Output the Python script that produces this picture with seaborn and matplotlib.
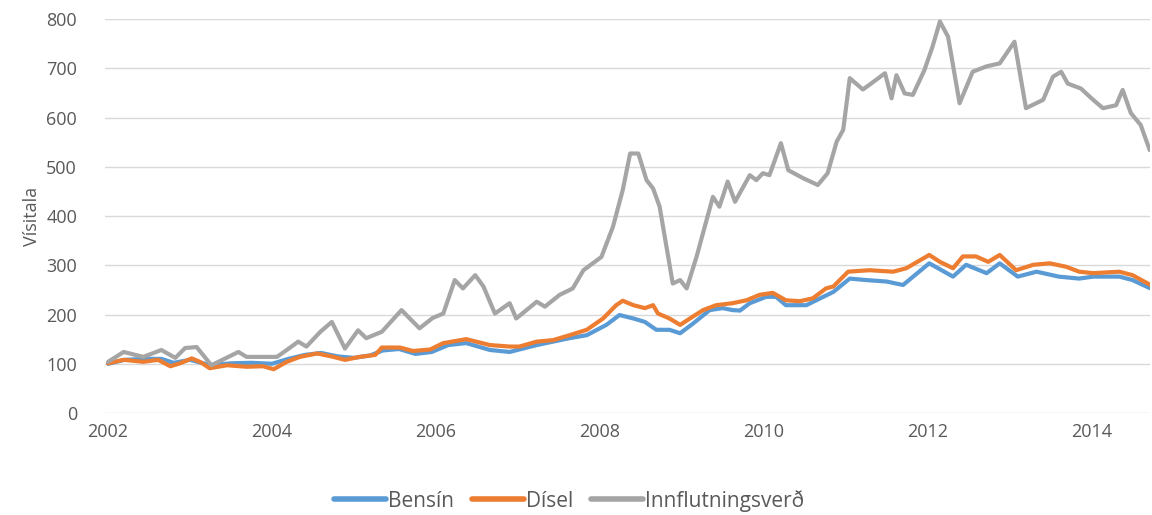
import pandas as pd
import numpy as np
import seaborn as sns
import matplotlib.pyplot as plt

# Bensín
bensin_t = [2002.0, 2002.2, 2002.45, 2002.65, 2002.8, 2003.0, 2003.25, 2003.5, 2003.75, 2004.0,
            2004.2, 2004.4, 2004.6, 2004.8, 2005.0, 2005.2, 2005.35, 2005.55, 2005.75, 2005.95,
            2006.15, 2006.37, 2006.66, 2006.9, 2007.23, 2007.63, 2007.84, 2008.08, 2008.24, 2008.41,
            2008.55, 2008.69, 2008.85, 2008.98, 2009.14, 2009.34, 2009.5, 2009.62, 2009.71, 2009.83,
            2010.03, 2010.15, 2010.27, 2010.52, 2010.85, 2011.05, 2011.25, 2011.5, 2011.7, 2012.02,
            2012.31, 2012.47, 2012.72, 2012.88, 2013.1, 2013.33, 2013.6, 2013.85, 2014.02, 2014.34,
            2014.5, 2014.72]
bensin_v = [100, 108, 110, 110, 102, 108, 97, 101, 102, 100,
            110, 118, 122, 115, 112, 117, 127, 130, 120, 124,
            138, 142, 128, 124, 138, 152, 158, 179, 199, 192,
            185, 169, 169, 162, 182, 209, 213, 209, 208, 223,
            236, 236, 219, 219, 246, 273, 270, 267, 260, 304,
            277, 301, 284, 304, 277, 287, 277, 273, 277, 277,
            270, 253]

# Dísel
disel_t = [2002.0, 2002.19, 2002.43, 2002.61, 2002.76, 2002.88, 2003.02, 2003.12, 2003.24, 2003.45,
           2003.69, 2003.89, 2004.02, 2004.18, 2004.34, 2004.55, 2004.75, 2004.89, 2005.07, 2005.26,
           2005.34, 2005.56, 2005.72, 2005.93, 2006.09, 2006.37, 2006.66, 2006.9, 2007.02, 2007.23,
           2007.43, 2007.63, 2007.84, 2008.04, 2008.2, 2008.28, 2008.41, 2008.55, 2008.65, 2008.71,
           2008.85, 2008.98, 2009.1, 2009.26, 2009.42, 2009.62, 2009.79, 2009.95, 2010.11, 2010.27,
           2010.44, 2010.6, 2010.76, 2010.85, 2011.03, 2011.29, 2011.58, 2011.74, 2012.02, 2012.15,
           2012.31, 2012.43, 2012.59, 2012.74, 2012.88, 2013.08, 2013.29, 2013.49, 2013.69, 2013.85,
           2014.02, 2014.34, 2014.5, 2014.72]
disel_v = [101, 108, 104, 108, 95, 101, 111, 104, 91, 97,
           94, 95, 89, 104, 114, 121, 114, 108, 114, 118,
           133, 133, 126, 129, 142, 150, 138, 135, 135, 145,
           148, 158, 169, 192, 219, 228, 219, 213, 219, 202,
           192, 179, 192, 209, 219, 223, 229, 240, 244, 229,
           227, 233, 253, 257, 287, 290, 287, 294, 321, 307,
           294, 318, 318, 307, 321, 290, 301, 304, 297, 287,
           284, 287, 280, 260]

# Innflutningsverð
innfl_t = [2002.0, 2002.19, 2002.43, 2002.65, 2002.82, 2002.94, 2003.08, 2003.26, 2003.59, 2003.69,
           2004.06, 2004.18, 2004.32, 2004.42, 2004.59, 2004.73, 2004.89, 2005.05, 2005.15, 2005.34,
           2005.58, 2005.8, 2005.96, 2006.09, 2006.23, 2006.33, 2006.48, 2006.58, 2006.72, 2006.9,
           2006.98, 2007.23, 2007.33, 2007.51, 2007.67, 2007.8, 2008.02, 2008.16, 2008.28, 2008.37,
           2008.47, 2008.57, 2008.65, 2008.73, 2008.89, 2008.98, 2009.06, 2009.18, 2009.38, 2009.46,
           2009.56, 2009.65, 2009.83, 2009.91, 2009.99, 2010.07, 2010.21, 2010.3, 2010.48, 2010.66,
           2010.78, 2010.89, 2010.97, 2011.05, 2011.21, 2011.31, 2011.48, 2011.56, 2011.62, 2011.72,
           2011.82, 2011.96, 2012.06, 2012.15, 2012.25, 2012.39, 2012.55, 2012.72, 2012.88, 2013.06,
           2013.2, 2013.41, 2013.53, 2013.63, 2013.71, 2013.87, 2014.02, 2014.14, 2014.3, 2014.38,
           2014.48, 2014.6, 2014.71]
innfl_v = [104, 124, 114, 128, 112, 132, 134, 97, 124, 114,
           114, 128, 145, 135, 165, 185, 131, 168, 152, 165,
           209, 172, 193, 202, 270, 253, 280, 257, 202, 223,
           192, 226, 216, 240, 253, 290, 317, 378, 453, 527,
           527, 473, 456, 419, 263, 270, 253, 317, 439, 419,
           470, 429, 483, 473, 487, 483, 548, 493, 477, 463,
           487, 551, 575, 680, 657, 669, 690, 639, 686, 649,
           646, 696, 744, 795, 764, 629, 693, 704, 710, 754,
           619, 636, 683, 693, 669, 659, 636, 619, 625, 656,
           609, 585, 534]

names = ['Bensín', 'Dísel', 'Innflutningsverð']
colors = ['#5B9BD5', '#ED7D31', '#A5A5A5']

df = pd.concat([
    pd.DataFrame({'ar': bensin_t, 'visitala': bensin_v, 'roð': names[0]}),
    pd.DataFrame({'ar': disel_t, 'visitala': disel_v, 'roð': names[1]}),
    pd.DataFrame({'ar': innfl_t, 'visitala': innfl_v, 'roð': names[2]}),
])

sns.set_style('white')
plt.rcParams['font.family'] = ['Open Sans', 'DejaVu Sans']

fig = plt.figure(figsize=(11.52, 5.15), dpi=100)
ax = fig.add_axes([0.091, 0.198, 0.907, 0.765])
sns.lineplot(data=df, x='ar', y='visitala', hue='roð', hue_order=names,
             palette=colors, estimator=None, sort=False, linewidth=3, ax=ax, legend=False)

ax.set_xlim(2001.96, 2014.71)
ax.set_ylim(0, 800)
ax.set_xticks([2002, 2004, 2006, 2008, 2010, 2012, 2014])
ax.set_xticklabels(['2002', '2004', '2006', '2008', '2010', '2012', '2014'])
ax.set_yticks(range(0, 801, 100))
ax.yaxis.grid(True, color='#d9d9d9', linewidth=1)
ax.xaxis.grid(False)
for s in ax.spines.values():
    s.set_visible(False)
ax.tick_params(axis='both', labelsize=13, colors='#595959', length=0)
ax.tick_params(axis='y', pad=20)
ax.tick_params(axis='x', pad=7)
ax.set_xlabel('')
ax.set_ylabel('Vísitala', fontsize=13, color='#595959', labelpad=4)

handles = [plt.Line2D([], [], color=c, linewidth=4) for c in colors]
fig.legend(handles, names, loc='lower center', bbox_to_anchor=(0.494, -0.03), ncol=3,
           frameon=False, fontsize=15, handlelength=2.5, handletextpad=0.1, columnspacing=0.85,
           labelcolor='#595959')

fig.savefig('out.png', dpi=100)
